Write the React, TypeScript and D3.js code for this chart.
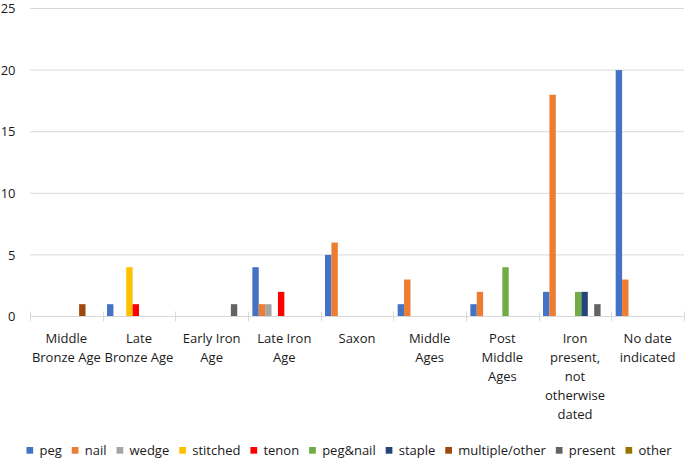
import React, { useEffect, useRef } from 'react';
import * as d3 from 'd3';

const categories = [
  "Middle\nBronze Age",
  "Late\nBronze Age",
  "Early Iron\nAge",
  "Late Iron\nAge",
  "Saxon",
  "Middle\nAges",
  "Post\nMiddle\nAges",
  "Iron\npresent,\nnot\notherwise\ndated",
  "No date\nindicated",
];
const seriesNames = ["peg", "nail", "wedge", "stitched", "tenon", "peg&nail", "staple", "multiple/other", "present", "other"];
const seriesColors = ["#4472C4", "#ED7D31", "#A5A5A5", "#FFC000", "#FF0000", "#70AD47", "#264478", "#9E480E", "#636363", "#997300"];
const peg = [0, 1, 0, 4, 5, 1, 1, 2, 20];
const nail = [0, 0, 0, 1, 6, 3, 2, 18, 3];
const wedge = [0, 0, 0, 1, 0, 0, 0, 0, 0];
const stitched = [0, 4, 0, 0, 0, 0, 0, 0, 0];
const tenon = [0, 1, 0, 2, 0, 0, 0, 0, 0];
const pegNail = [0, 0, 0, 0, 0, 0, 4, 2, 0];
const staple = [0, 0, 0, 0, 0, 0, 0, 2, 0];
const multipleOther = [1, 0, 0, 0, 0, 0, 0, 0, 0];
const present = [0, 0, 1, 0, 0, 0, 0, 1, 0];
const other = [0, 0, 0, 0, 0, 0, 0, 0, 0];
const yTicks = [0, 5, 10, 15, 20, 25];

const seriesValues = [peg, nail, wedge, stitched, tenon, pegNail, staple, multipleOther, present, other];

const W = 685;
const H = 460;
const FONT = "'Open Sans', 'Liberation Sans', sans-serif";
const TEXT = '#1a1a1a';

export default function App() {
  const ref = useRef<SVGSVGElement | null>(null);

  useEffect(() => {
    const svg = d3.select(ref.current);
    svg.selectAll('*').remove();

    const x = d3.scaleBand<string>().domain(categories).range([30, 684]).paddingInner(0).paddingOuter(0);
    const xInner = d3.scaleBand<string>().domain(seriesNames).range([0, x.bandwidth()]).paddingInner(0).paddingOuter(0.68);
    const y = d3.scaleLinear().domain([0, 25]).range([316.5, 8.5]);

    // gridlines
    svg.append('g').selectAll('line').data(yTicks.filter(t => t !== 0)).join('line')
      .attr('x1', 30).attr('x2', 684)
      .attr('y1', d => y(d)).attr('y2', d => y(d))
      .attr('stroke', '#d9d9d9').attr('stroke-width', 1);

    // y tick labels
    svg.append('g').selectAll('text').data(yTicks).join('text')
      .attr('x', 15.5).attr('y', d => y(d)).attr('dy', '0.36em')
      .attr('text-anchor', 'end')
      .attr('font-family', FONT).attr('font-size', 13).attr('fill', TEXT)
      .text(d => String(d));

    // bars
    const bars = svg.append('g');
    seriesNames.forEach((s, si) => {
      const vals = seriesValues[si];
      bars.append('g').selectAll('rect')
        .data(categories.map((c, ci) => ({ c, v: vals[ci] })).filter(d => d.v > 0))
        .join('rect')
        .attr('x', d => (x(d.c) as number) + (xInner(s) as number))
        .attr('width', xInner.bandwidth())
        .attr('y', d => y(d.v))
        .attr('height', d => y(0) - y(d.v))
        .attr('fill', seriesColors[si]);
    });

    // x axis line
    svg.append('line')
      .attr('x1', 30).attr('x2', 684).attr('y1', y(0)).attr('y2', y(0))
      .attr('stroke', '#d9d9d9').attr('stroke-width', 1);

    // category ticks
    const bounds = categories.map(c => x(c) as number).concat([684]);
    svg.append('g').selectAll('line').data(bounds).join('line')
      .attr('x1', d => Math.round(d) + 0.5).attr('x2', d => Math.round(d) + 0.5)
      .attr('y1', y(0) - 5).attr('y2', y(0) + 5)
      .attr('stroke', '#d9d9d9').attr('stroke-width', 1);

    // category labels
    const labels = svg.append('g');
    categories.forEach(c => {
      const cx = (x(c) as number) + x.bandwidth() / 2;
      const t = labels.append('text')
        .attr('text-anchor', 'middle')
        .attr('font-family', FONT).attr('font-size', 13).attr('fill', TEXT);
      c.split('\n').forEach((line, li) => {
        t.append('tspan').attr('x', cx).attr('y', 342.5 + li * 19).text(line);
      });
    });

    // legend
    const lg = svg.append('g');
    const items: { g: any; w: number }[] = [];
    seriesNames.forEach((s, si) => {
      const g = lg.append('g');
      g.append('rect').attr('x', 0).attr('y', 447).attr('width', 6.7).attr('height', 6.7).attr('fill', seriesColors[si]);
      const t = g.append('text').attr('x', 13).attr('y', 455)
        .attr('font-family', FONT).attr('font-size', 13).attr('fill', TEXT).text(s);
      const tw = (t.node() as SVGTextElement).getComputedTextLength();
      items.push({ g, w: 13 + tw });
    });
    const gap = 10;
    const total = items.reduce((a, b) => a + b.w, 0) + gap * (items.length - 1);
    let cur = 349 - total / 2;
    items.forEach(it => {
      it.g.attr('transform', `translate(${cur},0)`);
      cur += it.w + gap;
    });
  }, []);

  return (
    <svg ref={ref} width={W} height={H} style={{ position: 'absolute', left: 0, top: 0, background: '#fff' }} />
  );
}
